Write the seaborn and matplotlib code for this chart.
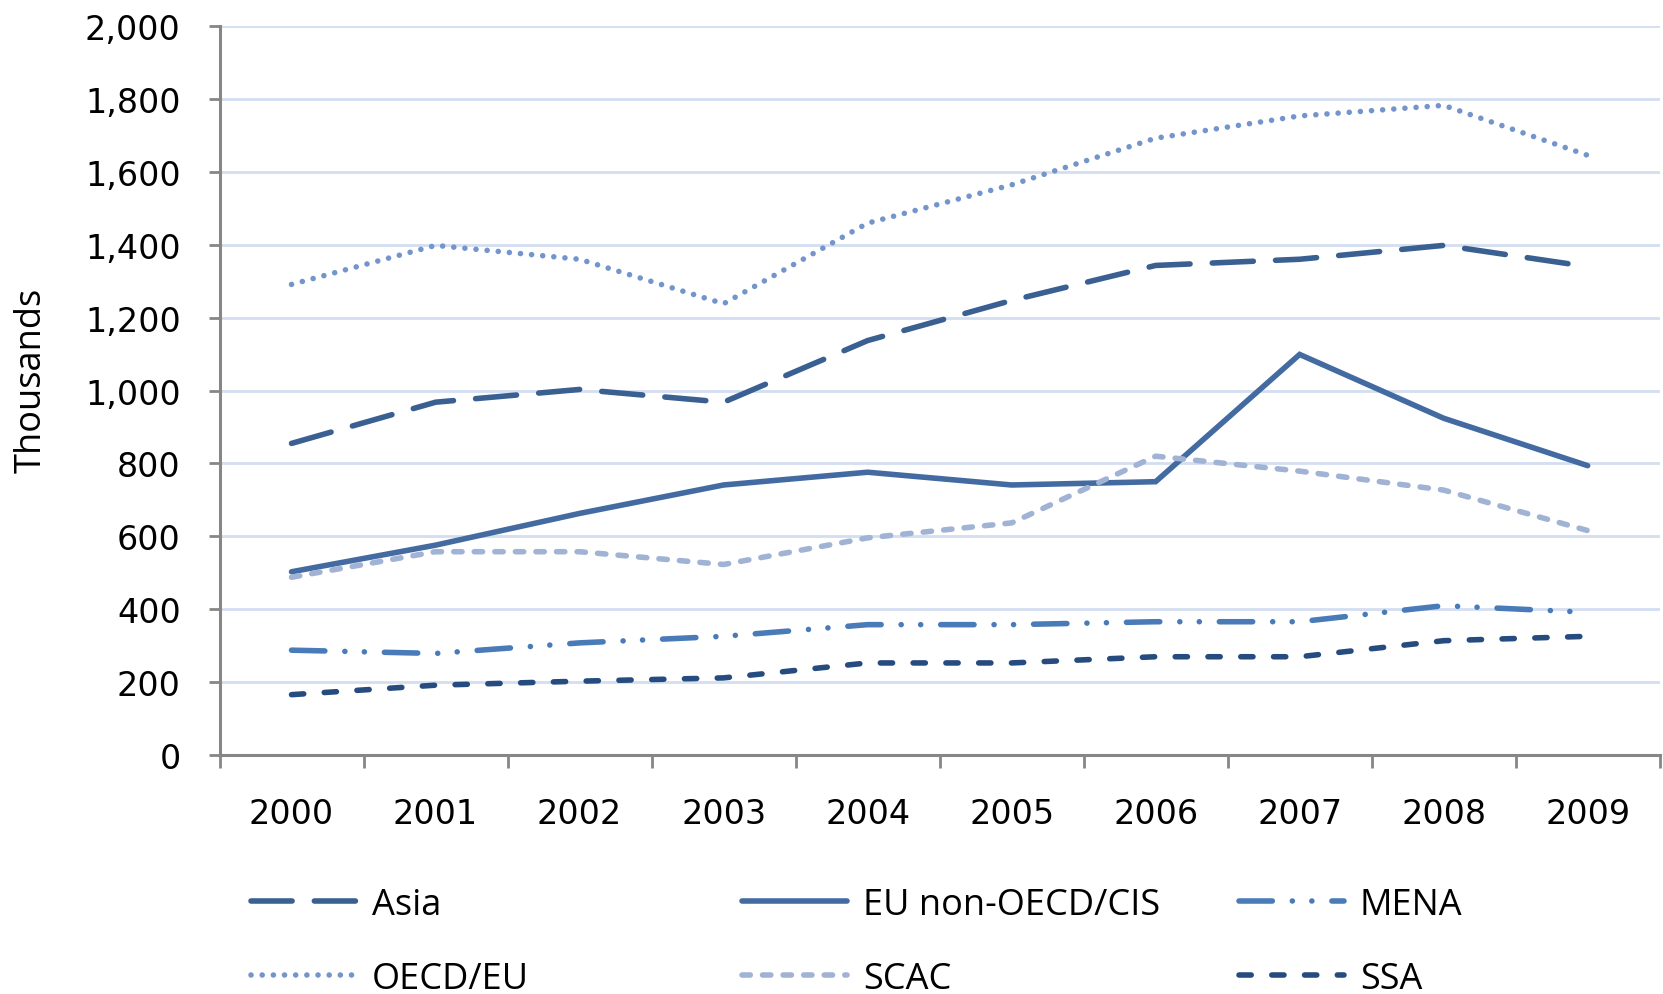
import matplotlib
matplotlib.use("Agg")
import matplotlib.pyplot as plt
import seaborn as sns
import pandas as pd
from matplotlib.ticker import FixedLocator, FuncFormatter

years = ["2000", "2001", "2002", "2003", "2004", "2005", "2006", "2007", "2008", "2009"]
asia = [855, 968, 1003, 968, 1137, 1247, 1343, 1360, 1398, 1340]
eu_non_oecd = [503, 576, 663, 741, 776, 741, 750, 1099, 924, 794]
mena = [288, 279, 308, 326, 358, 358, 366, 366, 410, 392]
oecd_eu = [1291, 1398, 1360, 1238, 1459, 1564, 1692, 1753, 1782, 1645]
scac = [488, 558, 558, 523, 596, 637, 820, 779, 727, 616]
ssa = [166, 192, 203, 212, 253, 253, 270, 270, 314, 326]

series = {
    "Asia": asia,
    "EU non-OECD/CIS": eu_non_oecd,
    "MENA": mena,
    "OECD/EU": oecd_eu,
    "SCAC": scac,
    "SSA": ssa,
}
colors = {
    "Asia": "#3a5f91",
    "EU non-OECD/CIS": "#436ba1",
    "MENA": "#4a7bb9",
    "OECD/EU": "#7395cb",
    "SCAC": "#a1b3d5",
    "SSA": "#264b7e",
}
dashes = {
    "Asia": (7.4, 4.0),
    "EU non-OECD/CIS": None,
    "MENA": (6.0, 3.6, 0.01, 3.5, 0.01, 3.6),
    "OECD/EU": (0.01, 2.0),
    "SCAC": (1.5, 2.2),
    "SSA": (2.2, 3.7),
}

sns.set_theme(style="white")
plt.rcParams["font.family"] = ["DejaVu Sans"]

fig = plt.figure(figsize=(16.63, 9.95), dpi=100)
ax = fig.add_axes([0.132, 0.240, 0.866, 0.733])

x = list(range(len(years)))
lines = {}
for name, vals in series.items():
    df = pd.DataFrame({"x": x, "y": vals})
    sns.lineplot(data=df, x="x", y="y", ax=ax, color=colors[name], linewidth=4.0, label=name, legend=False)
    ln = ax.lines[-1]
    ln.set_dash_capstyle("round")
    ln.set_solid_capstyle("round")
    ln.set_solid_joinstyle("miter")
    if dashes[name] is not None:
        ln.set_dashes(dashes[name])
    lines[name] = ln

ax.set_xlim(-0.5, 9.5)
ax.set_ylim(0, 2000)
ax.set_yticks(range(0, 2001, 200))
ax.yaxis.set_major_formatter(FuncFormatter(lambda v, p: f"{int(v):,}"))
ax.set_xticks(x)
ax.set_xticklabels(years)
ax.xaxis.set_minor_locator(FixedLocator([i - 0.5 for i in range(11)]))
ax.tick_params(axis="x", which="major", length=0, pad=30, labelsize=24, colors="black")
ax.tick_params(axis="x", which="minor", length=9, width=2, color="#868686", direction="out", bottom=True)
ax.tick_params(axis="y", which="major", length=8, width=2, color="#868686", pad=20, labelsize=24, labelcolor="black", left=True)
for lab in ax.get_xticklabels():
    lab.set_color("black")

ax.grid(axis="y", color="#d3def1", linewidth=2.0)
ax.grid(axis="x", visible=False)
ax.set_axisbelow(True)
for s in ["top", "right"]:
    ax.spines[s].set_visible(False)
for s in ["left", "bottom"]:
    ax.spines[s].set_color("#868686")
    ax.spines[s].set_linewidth(2.2)
ax.set_xlabel("")
ax.set_ylabel("")

label_font = ["Open Sans"]
fig.text(32 / 1663, 0.618, "Thousands", rotation=90, ha="center", va="center",
         fontsize=26, family=label_font, color="black")

cols = [["Asia", "OECD/EU"], ["EU non-OECD/CIS", "SCAC"], ["MENA", "SSA"]]
xs = [251 / 1663, 742 / 1663, 1239 / 1663]
for names, xpos in zip(cols, xs):
    leg = fig.legend([lines[n] for n in names], names, loc="upper left",
                     bbox_to_anchor=(xpos, 1 - 888 / 995), frameon=False,
                     borderpad=0, borderaxespad=0, handlelength=2.9, handletextpad=0.45,
                     labelspacing=1.05, prop={"family": label_font, "size": 26})
    for t in leg.get_texts():
        t.set_color("black")

fig.savefig("out.png", dpi=100)
